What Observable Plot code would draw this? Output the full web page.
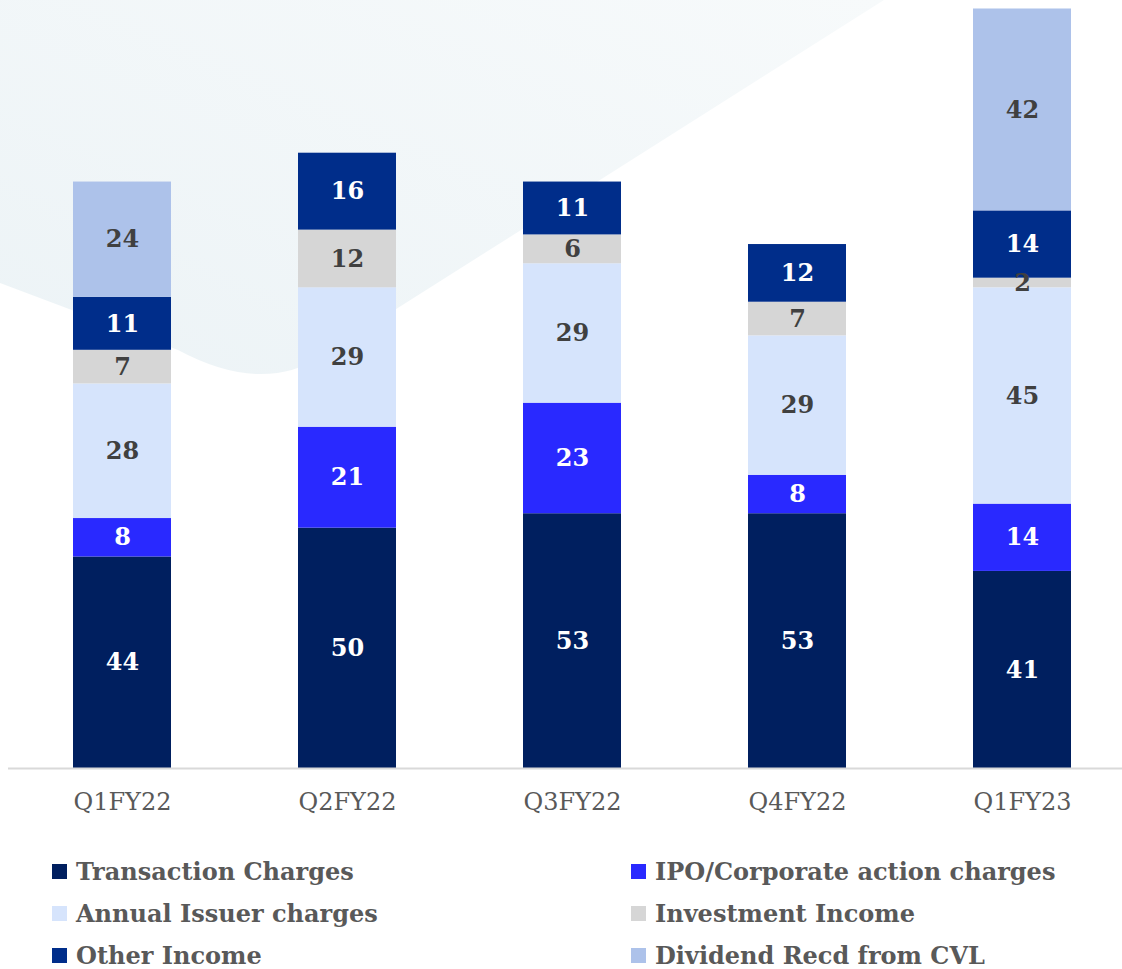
<!DOCTYPE html>
<html>
<head>
<meta charset="utf-8">
<script src="https://cdn.jsdelivr.net/npm/d3@7"></script>
<script src="https://cdn.jsdelivr.net/npm/@observablehq/plot@0.6"></script>
<style>
  html, body { margin: 0; padding: 0; background: #fff; }
  #wrap { position: relative; width: 1122px; height: 969px; overflow: hidden; font-family: "DejaVu Serif", serif; }
  #bg { position: absolute; left: 0; top: 0; }
  #chart { position: absolute; left: 0; top: 0; }
  #legend { position: absolute; left: 0; top: 850px; width: 1122px; }
  .item { position: absolute; display: flex; align-items: center; font-weight: bold; font-size: 24px; color: #595959; white-space: nowrap; }
  .sw { width: 15px; height: 15px; margin-right: 9px; }
</style>
</head>
<body>
<div id="wrap">
  <svg id="bg" width="1122" height="420">
    <defs>
      <linearGradient id="g" x1="0" y1="1" x2="1" y2="0">
        <stop offset="0" stop-color="#ecf3f6"/>
        <stop offset="1" stop-color="#f7fafb"/>
      </linearGradient>
    </defs>
    <path d="M0,0 L0,283 L178,350 Q262,395 322,356 L884,0 Z" fill="url(#g)"/>
  </svg>
  <div id="chart"></div>
  <div id="legend"></div>
</div>
<script>
const quarters = ["Q1FY22", "Q2FY22", "Q3FY22", "Q4FY22", "Q1FY23"];
const seriesNames = ["Transaction Charges", "IPO/Corporate action charges", "Annual Issuer charges", "Investment Income", "Other Income", "Dividend Recd from CVL"];
const transactionCharges = [44, 50, 53, 53, 41];
const ipoCharges = [8, 21, 23, 8, 14];
const annualIssuer = [28, 29, 29, 29, 45];
const investmentIncome = [7, 12, 6, 7, 2];
const otherIncome = [11, 16, 11, 12, 14];
const dividendCVL = [24, 0, 0, 0, 42];
const colors = ["#001f5f", "#2929ff", "#d6e4fc", "#d6d6d6", "#002d8a", "#adc2ea"];
const darkSeries = new Set(["Transaction Charges", "IPO/Corporate action charges", "Other Income"]);

const valuesBySeries = [transactionCharges, ipoCharges, annualIssuer, investmentIncome, otherIncome, dividendCVL];
const data = [];
seriesNames.forEach((s, i) => {
  quarters.forEach((q, j) => {
    data.push({quarter: q, series: s, value: valuesBySeries[i][j]});
  });
});

const pxPerUnit = 4.807;
const baseY = 768;

const chart = Plot.plot({
  width: 1122,
  height: 840,
  marginLeft: 8,
  marginRight: 0,
  marginTop: 0,
  marginBottom: 72,
  style: {background: "transparent", fontFamily: "DejaVu Serif, serif", fontSize: "24px", color: "#595959", overflow: "visible"},
  x: {type: "band", domain: quarters, range: [-40.1, 1184.2], paddingInner: 0.565, paddingOuter: 0.5, label: null, tickSize: 0, tickPadding: 24},
  y: {domain: [0, 160], range: [baseY, baseY - 160 * pxPerUnit], axis: null},
  color: {domain: seriesNames, range: colors},
  marks: [
    Plot.barY(data, Plot.stackY({x: "quarter", y: "value", fill: "series", order: seriesNames})),
    Plot.text(data, Plot.stackY({x: "quarter", y: "value", z: "series", order: seriesNames,
      text: d => (d.value > 0 && darkSeries.has(d.series)) ? String(d.value) : "",
      fill: "white", fontWeight: "bold", fontSize: 24})),
    Plot.text(data, Plot.stackY({x: "quarter", y: "value", z: "series", order: seriesNames,
      text: d => (d.value > 0 && !darkSeries.has(d.series)) ? String(d.value) : "",
      fill: "#404040", fontWeight: "bold", fontSize: 24})),
    Plot.ruleY([0], {stroke: "#d9d9d9", strokeWidth: 2})
  ]
});
document.getElementById("chart").appendChild(chart);

const legend = document.getElementById("legend");
const cols = [52, 631];
seriesNames.forEach((s, i) => {
  const el = document.createElement("div");
  el.className = "item";
  el.style.left = cols[i % 2] + "px";
  el.style.top = (Math.floor(i / 2) * 42) + "px";
  el.style.height = "42px";
  const sw = document.createElement("div");
  sw.className = "sw";
  sw.style.background = colors[i];
  const t = document.createElement("span");
  t.textContent = s;
  el.appendChild(sw);
  el.appendChild(t);
  legend.appendChild(el);
});
</script>
</body>
</html>
